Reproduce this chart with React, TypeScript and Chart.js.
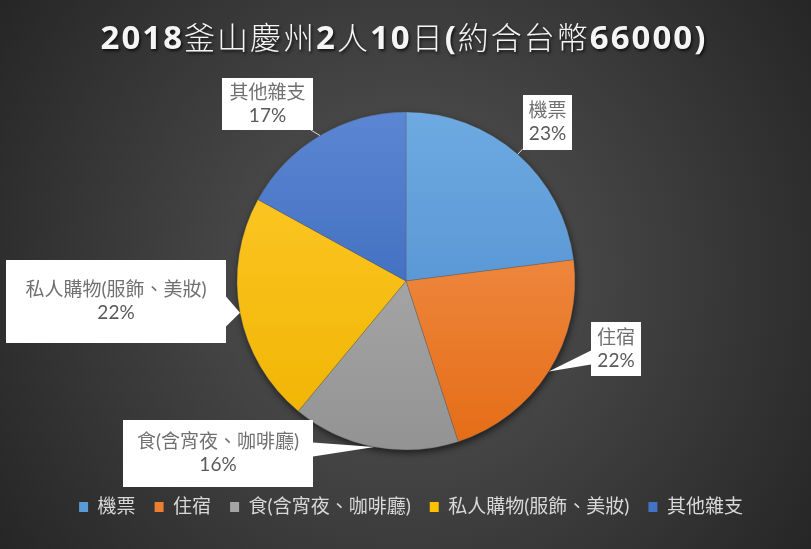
import { useEffect, useRef } from "react";
import { Chart, registerables } from "chart.js";

Chart.register(...registerables);

// ---------- data ----------
const titleText = "2018釜山慶州2人10日(約合台幣66000)";
const categories = ["機票", "住宿", "食(含宵夜、咖啡廳)", "私人購物(服飾、美妝)", "其他雜支"];
const shares = [23, 22, 16, 22, 17];

// ---------- styles ----------
const baseColors = ["#5b9bd5", "#ed7d31", "#a5a5a5", "#ffc000", "#4472c4"];
const topColors = ["#6eaae1", "#f39a5b", "#b5b5b5", "#ffca2c", "#5b86d3"];
const bottomColors = ["#4786cb", "#e56c15", "#939393", "#efb300", "#2f5cb2"];
const PIE_RADIUS = 169;
// callout boxes: offset of box centre from pie centre, box size, pointer style
const calloutDx = [141.5, 210, -188, -290, -138.5];
const calloutDy = [-158.5, 68, 172.5, 20.5, -177];
const calloutW = [49, 50, 190, 220, 91];
const calloutH = [55, 54, 67, 83, 52];
const calloutKind = ["line", "wedge", "wedge", "wedge", "line"];
const calloutHalf = [0, 7, 7, 15, 0];

const FONT_FAMILY = "Lato, 'Noto Sans CJK TC', sans-serif";

const backgroundPlugin = {
  id: "bgGradient",
  beforeDraw(chart: any) {
    const { ctx, width, height } = chart;
    ctx.save();
    const cx = width * 0.5;
    const cy = height * 0.5;
    const g = ctx.createRadialGradient(cx, cy, 0, cx, cy, Math.max(width, height) * 0.6);
    g.addColorStop(0, "#575757");
    g.addColorStop(0.45, "#414141");
    g.addColorStop(1, "#262626");
    ctx.fillStyle = g;
    ctx.fillRect(0, 0, width, height);
    ctx.restore();
  },
};

const titlePlugin = {
  id: "mixedTitle",
  afterDraw(chart: any) {
    const { ctx, width } = chart;
    const runs = titleText.split(/([\x00-\x7f]+)/).filter((s) => s.length > 0);
    const fontFor = (s: string) =>
      /^[\x00-\x7f]+$/.test(s)
        ? "bold 33px 'Open Sans', sans-serif"
        : "300 31px 'Noto Sans CJK TC', sans-serif";
    ctx.save();
    try {
      (ctx as any).letterSpacing = "2px";
    } catch (e) {}
    let total = 0;
    const widths = runs.map((r) => {
      ctx.font = fontFor(r);
      const w = ctx.measureText(r).width;
      total += w;
      return w;
    });
    let x = width / 2 - 1.5 - total / 2;
    const y = 49;
    ctx.textBaseline = "alphabetic";
    ctx.textAlign = "left";
    ctx.fillStyle = "#f5f5f5";
    ctx.shadowColor = "rgba(0,0,0,0.7)";
    ctx.shadowBlur = 3;
    ctx.shadowOffsetX = 1.5;
    ctx.shadowOffsetY = 1.5;
    runs.forEach((r, i) => {
      ctx.font = fontFor(r);
      ctx.fillText(r, x, y);
      x += widths[i];
    });
    ctx.restore();
  },
};

const pieShadowPlugin = {
  id: "pieShadow",
  beforeDatasetsDraw(chart: any) {
    const meta = chart.getDatasetMeta(0);
    const arc = meta.data[0];
    if (!arc) return;
    const { x, y, outerRadius } = arc.getProps(["x", "y", "outerRadius"], true);
    const { ctx } = chart;
    ctx.save();
    ctx.shadowColor = "rgba(0,0,0,0.6)";
    ctx.shadowBlur = 7;
    ctx.shadowOffsetX = 1;
    ctx.shadowOffsetY = 3;
    ctx.fillStyle = "#3a3a3a";
    ctx.beginPath();
    ctx.arc(x, y, outerRadius, 0, Math.PI * 2);
    ctx.fill();
    ctx.restore();
  },
};

const legendShiftPlugin = {
  id: "legendShift",
  afterLayout(chart: any) {
    const lg = chart.legend;
    if (lg) {
      lg.left += 5;
      lg.right += 5;
    }
  },
};

function boxEdgePoint(bx: number, by: number, hw: number, hh: number, tx: number, ty: number) {
  const dx = tx - bx;
  const dy = ty - by;
  const sx = dx !== 0 ? hw / Math.abs(dx) : Infinity;
  const sy = dy !== 0 ? hh / Math.abs(dy) : Infinity;
  if (sx < sy) return { x: bx + dx * sx, y: by + dy * sx, side: "v" };
  return { x: bx + dx * sy, y: by + dy * sy, side: "h" };
}

const calloutPlugin = {
  id: "callouts",
  afterDatasetsDraw(chart: any) {
    const { ctx } = chart;
    const meta = chart.getDatasetMeta(0);
    const values: number[] = chart.data.datasets[0].data;
    const total = values.reduce((a, b) => a + b, 0);
    meta.data.forEach((arc: any, i: number) => {
      const { x, y, startAngle, endAngle, outerRadius } = arc.getProps(
        ["x", "y", "startAngle", "endAngle", "outerRadius"],
        true
      );
      const mid = (startAngle + endAngle) / 2;
      const tx = x + Math.cos(mid) * outerRadius;
      const ty = y + Math.sin(mid) * outerRadius;
      const bx = x + calloutDx[i];
      const by = y + calloutDy[i];
      const hw = calloutW[i] / 2;
      const hh = calloutH[i] / 2;
      const p = boxEdgePoint(bx, by, hw, hh, tx, ty);
      ctx.save();
      if (calloutKind[i] === "line") {
        ctx.strokeStyle = "rgba(235,235,235,0.9)";
        ctx.lineWidth = 1;
        ctx.beginPath();
        ctx.moveTo(tx, ty);
        ctx.lineTo(p.x, p.y);
        ctx.stroke();
      } else {
        const h = calloutHalf[i];
        ctx.fillStyle = "#ffffff";
        ctx.beginPath();
        if (p.side === "v") {
          const y1 = Math.max(by - hh, p.y - h);
          const y2 = Math.min(by + hh, p.y + h);
          ctx.moveTo(p.x, y1);
          ctx.lineTo(tx, ty);
          ctx.lineTo(p.x, y2);
        } else {
          const x1 = Math.max(bx - hw, p.x - h);
          const x2 = Math.min(bx + hw, p.x + h);
          ctx.moveTo(x1, p.y);
          ctx.lineTo(tx, ty);
          ctx.lineTo(x2, p.y);
        }
        ctx.closePath();
        ctx.fill();
      }
      ctx.fillStyle = "#ffffff";
      ctx.fillRect(bx - hw, by - hh, calloutW[i], calloutH[i]);
      ctx.textAlign = "center";
      ctx.textBaseline = "middle";
      ctx.font = `19px ${FONT_FAMILY}`;
      ctx.fillStyle = "#707070";
      ctx.fillText(categories[i], bx, by - 11.5);
      ctx.fillStyle = "#595959";
      ctx.fillText(`${Math.round((values[i] / total) * 100)}%`, bx, by + 11.5);
      ctx.restore();
    });
  },
};

export default function App() {
  const canvasRef = useRef<HTMLCanvasElement | null>(null);

  useEffect(() => {
    const canvas = canvasRef.current;
    if (!canvas) return;
    const chart = new Chart(canvas, {
      type: "pie",
      data: {
        labels: categories,
        datasets: [
          {
            data: shares,
            backgroundColor: (c: any) => {
              const chartObj = c.chart;
              const area = chartObj.chartArea;
              const i = c.dataIndex ?? 0;
              if (!area) return baseColors[i];
              const cy = (area.top + area.bottom) / 2;
              const g = chartObj.ctx.createLinearGradient(0, cy - PIE_RADIUS, 0, cy + PIE_RADIUS);
              g.addColorStop(0, topColors[i]);
              g.addColorStop(1, bottomColors[i]);
              return g;
            },
            borderColor: "rgba(90,90,90,0.35)",
            borderWidth: 1,
            offset: 0,
            hoverOffset: 0,
          } as any,
        ],
      },
      options: {
        animation: false,
        responsive: false,
        devicePixelRatio: 1,
        events: [],
        radius: PIE_RADIUS,
        layout: { padding: { top: 83.5, bottom: 22.5, left: 51, right: 50 } },
        plugins: {
          title: { display: false },
          tooltip: { enabled: false },
          legend: {
            display: true,
            position: "bottom",
            labels: {
              boxWidth: 9,
              boxHeight: 10,
              padding: 19,
              color: "#d9d9d9",
              font: { family: FONT_FAMILY, size: 19 },
              generateLabels: () =>
                categories.map((c, i) => ({
                  text: c,
                  fillStyle: baseColors[i],
                  strokeStyle: baseColors[i],
                  lineWidth: 0,
                  hidden: false,
                  index: i,
                  fontColor: "#d9d9d9",
                })),
            },
          },
        },
      } as any,
      plugins: [backgroundPlugin, pieShadowPlugin, calloutPlugin, titlePlugin, legendShiftPlugin],
    });
    return () => chart.destroy();
  }, []);

  return (
    <div style={{ position: "fixed", left: 0, top: 0, width: 811, height: 549 }}>
      <canvas ref={canvasRef} width={811} height={549} style={{ display: "block" }} />
    </div>
  );
}
